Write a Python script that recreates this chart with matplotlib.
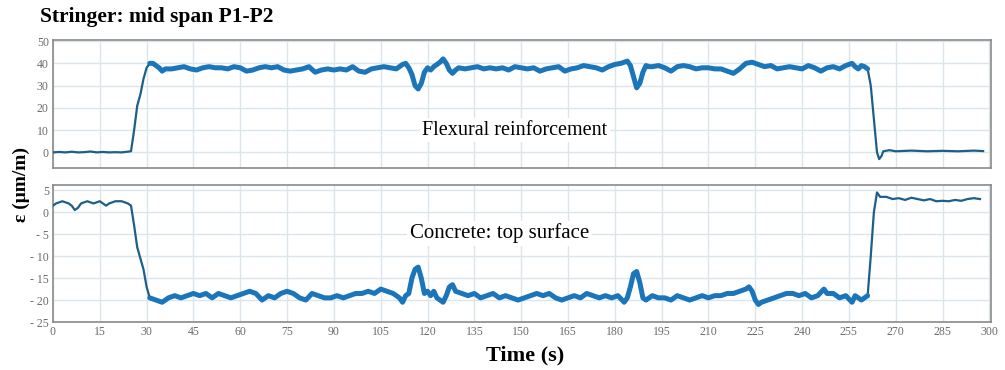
import matplotlib
matplotlib.use("Agg")
from matplotlib import pyplot as plt

# Flexural reinforcement strain (top panel)
t_top = [0, 2, 4, 6, 8, 10, 12, 14, 16, 18, 20, 22, 24, 25, 26, 27, 28, 29, 30, 31, 32, 33, 34, 35,
         36, 38, 40, 42, 44, 46, 48, 50, 52, 54, 56, 58, 60, 62, 64, 66, 68, 70, 72, 74, 76, 78,
         80, 82, 84, 86, 88, 90, 92, 94, 96, 98, 100, 102, 104, 106, 108, 110, 112, 113, 114, 115,
         116, 117, 118, 119, 120, 121, 122, 124, 125, 126, 127, 128, 129, 130, 132, 134, 136, 138,
         140, 142, 144, 146, 148, 150, 152, 154, 156, 158, 160, 162, 164, 166, 168, 170, 172, 174,
         176, 178, 180, 182, 184, 185, 186, 187, 188, 189, 190, 191, 192, 194, 196, 198, 200, 202,
         204, 206, 208, 210, 212, 214, 216, 218, 220, 222, 224, 226, 228, 230, 232, 234, 236, 238,
         240, 242, 244, 246, 248, 250, 252, 254, 256, 257, 258, 259, 260, 261, 262, 263, 264, 264.7,
         265.5, 266, 268, 270, 275, 280, 285, 290, 295, 298]
eps_top = [0, 0.2, 0, 0.3, 0, 0.1, 0.4, 0, 0.2, 0, 0.1, 0, 0.3, 0.5, 10, 21, 26, 33, 38, 40, 40, 39, 38,
           36.5, 37.5, 37.5, 38, 38.5, 37.5, 37, 38, 38.5, 38, 38, 37.5, 38.5, 38, 36.5, 37, 38, 38.5,
           38, 38.5, 37, 36.5, 37, 37.5, 38.5, 36, 37, 37.5, 37, 37.5, 37, 38.5, 36.5, 36, 37.5, 38,
           38.5, 38, 37.5, 39.5, 40, 38, 35, 30, 28.5, 31, 36, 38, 37, 38.5, 40.5, 42, 40, 37, 35.5,
           37, 38, 37.5, 38, 38.5, 37.5, 38, 37.5, 38, 37, 38.5, 38, 37.5, 38, 36.5, 37.5, 38, 38.5,
           36.5, 37.5, 38, 39, 38.5, 38, 37, 38.5, 39.5, 40, 41, 39, 34, 29, 31, 36, 39, 38.5, 38.5,
           39, 38, 36.5, 38.5, 39, 38.5, 37.5, 38, 38, 37.5, 37.5, 36.5, 35.5, 37.5, 40, 40.5, 39.5,
           38.5, 39, 37.5, 38, 38.5, 38, 37.5, 39, 38, 36.5, 38, 38.5, 37.5, 39, 40, 38.5, 37.5, 39,
           38.5, 37.5, 30, 15, 0, -3, -1.5, 0.5, 1, 0.5, 0.8, 0.5, 0.7, 0.5, 0.8, 0.6]

# Concrete top surface strain (bottom panel)
t_bot = [0, 1, 3, 5, 6, 7, 8, 9, 11, 13, 15, 17, 18, 20, 22, 24, 25, 26, 27, 28, 29, 30, 31, 33, 35,
         37, 39, 41, 43, 45, 47, 49, 51, 53, 55, 57, 59, 61, 63, 65, 67, 69, 71, 73, 75, 77, 79, 81,
         83, 85, 87, 89, 91, 93, 95, 97, 99, 101, 103, 105, 107, 109, 111, 112, 113, 114, 115, 116,
         117, 118, 119, 120, 121, 122, 123, 125, 126, 127, 128, 129, 131, 133, 135, 137, 139, 141,
         143, 145, 147, 149, 151, 153, 155, 157, 159, 161, 163, 165, 167, 169, 171, 173, 175, 177,
         179, 181, 183, 184, 185, 186, 187, 188, 189, 190, 192, 194, 196, 198, 200, 202, 204, 206,
         208, 210, 212, 214, 216, 218, 220, 222, 223, 224, 225, 226, 227, 229, 231, 233, 235, 237,
         239, 241, 243, 245, 247, 248, 250, 252, 254, 256, 257, 259, 260, 261, 262, 263, 264, 265,
         267, 269, 271, 273, 275, 277, 279, 281, 283, 285, 287, 289, 291, 293, 295, 297]
eps_bot = [1.5, 2, 2.5, 2, 1.5, 0.5, 1, 2, 2.5, 2, 2.5, 1.5, 2, 2.5, 2.5, 2, 1.5, -3, -8, -10.5, -13,
           -17, -19.5, -20, -20.5, -19.5, -19, -19.5, -19, -18.5, -19, -18.5, -19.5, -18.5, -19,
           -19.5, -19, -18.5, -18, -18.5, -20, -19, -19.5, -18.5, -18, -18.5, -19.5, -20, -18.5, -19,
           -19.5, -19.5, -19, -19.5, -19, -18.5, -18.5, -18, -18.5, -17.5, -18, -18.5, -19.5, -20.5,
           -19, -18.5, -15, -13, -12.5, -15, -18.5, -18, -19, -18, -19.5, -20.5, -19, -17, -16.5,
           -18, -18.5, -19, -18.5, -19.5, -19, -18.5, -19.5, -19, -19.5, -20, -19.5, -19, -18.5, -19,
           -18.5, -19.5, -20, -19.5, -19, -19.5, -18.5, -19, -19.5, -19, -19.5, -19, -20.5, -19.5,
           -17, -14, -13.5, -16, -19.5, -20, -19, -19.5, -19.5, -20, -19, -19.5, -20, -19.5, -19,
           -19.5, -19, -19, -18.5, -18.5, -18, -17.5, -17, -18, -20, -21, -20.5, -20, -19.5, -19,
           -18.5, -18.5, -19, -18.5, -19.5, -19, -17.5, -18.5, -18.5, -19.5, -19, -20.5, -19, -20,
           -19.5, -19, -10, 0, 4.5, 3.5, 3.5, 3, 3.2, 2.8, 3.3, 3, 2.7, 3, 2.5, 2.6, 2.5, 2.8, 2.6, 3,
           3.2, 3]

x_ticks = list(range(0, 301, 15))
top_ticks = [0, 10, 20, 30, 40, 50]
bot_ticks = [-25, -20, -15, -10, -5, 0, 5]
bot_labels = ["- 25", "- 20", "- 15", "- 10", "- 5", "0", "5"]

serif = "Liberation Serif"
line_col = "#1b75bb"
flat_col = "#1d5f8a"
grid_col = "#dbe5ec"

fig = plt.figure(figsize=(10.05, 3.7), dpi=100)
ax1 = fig.add_axes([0.0527, 0.546, 0.9333, 0.346])
ax2 = fig.add_axes([0.0527, 0.1297, 0.9333, 0.3703])


def thick_part(t, v, lo, hi):
    tt, vv = [], []
    for a, b in zip(t, v):
        if lo <= a <= hi:
            tt.append(a)
            vv.append(b)
    return tt, vv


for ax, t, v in [(ax1, t_top, eps_top), (ax2, t_bot, eps_bot)]:
    ax.plot(t, v, color=flat_col, lw=1.6, zorder=3)
    tt, vv = thick_part(t, v, 31, 261)
    ax.plot(tt, vv, color=line_col, lw=3.6, zorder=3, solid_joinstyle="round",
            solid_capstyle="round")
    ax.set_xlim(0, 300.5)
    ax.set_xticks(x_ticks)
    ax.grid(True, color=grid_col, lw=1.0)
    ax.set_axisbelow(True)
    ax.tick_params(length=0, labelsize=8.5, colors="#6a6a6a", pad=3)
    for s in ax.spines.values():
        s.set_color("#8a8a8a")
        s.set_linewidth(1.2)

ax1.set_ylim(-7, 50.5)
ax1.set_yticks(top_ticks)
ax1.set_yticklabels([str(v) for v in top_ticks], family=serif)
ax1.set_xticklabels([])

ax2.set_ylim(-25, 6.2)
ax2.set_yticks(bot_ticks)
ax2.set_yticklabels(bot_labels, family=serif)
ax2.set_xticklabels([str(v) for v in x_ticks], family=serif)

box = dict(facecolor="white", edgecolor="none", pad=2)
ax1.text(148, 10, "Flexural reinforcement", family=serif, fontsize=14.5,
         ha="center", va="center", bbox=box, zorder=4)
ax2.text(143, -4.8, "Concrete: top surface", family=serif, fontsize=15,
         ha="center", va="center", bbox=box, zorder=4)

fig.text(0.04, 0.955, "Stringer: mid span P1-P2", family=serif, fontsize=15.5,
         fontweight="bold", ha="left", va="center")
fig.text(0.523, 0.04, "Time (s)", family=serif, fontsize=16, fontweight="bold",
         ha="center", va="center")
fig.text(0.021, 0.5, "ε (μm/m)", family=serif, fontsize=14, fontweight="bold",
         rotation=90, ha="center", va="center")

fig.savefig("out.png", dpi=100)
